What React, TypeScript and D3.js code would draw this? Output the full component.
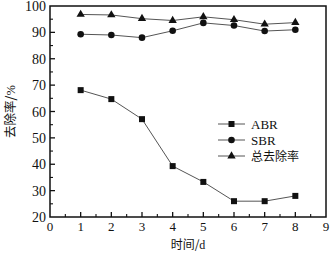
import React from "react";
import * as d3 from "d3";

const days = [1, 2, 3, 4, 5, 6, 7, 8];
const abr = [68.1, 64.7, 57.1, 39.3, 33.3, 26.0, 26.0, 28.0];
const sbr = [89.3, 89.0, 88.0, 90.6, 93.6, 92.6, 90.5, 91.0];
const total = [96.8, 96.6, 95.2, 94.5, 95.9, 94.8, 93.1, 93.7];
const xTicks = [0, 1, 2, 3, 4, 5, 6, 7, 8, 9];
const yTicks = [20, 30, 40, 50, 60, 70, 80, 90, 100];
const seriesNames = ["ABR", "SBR", "总去除率"];

const W = 333, H = 253;
const L = 50, R = 326, T = 6, B = 217;

export default function App() {
  const x = d3.scaleLinear().domain([0, 9]).range([L, R]);
  const y = d3.scaleLinear().domain([20, 100]).range([B, T]);
  const line = d3.line<number>().x((_, i) => x(days[i])).y((d) => y(d));
  const font = "'Liberation Serif', 'Times New Roman', serif";
  const cjk = "'Noto Sans CJK SC', sans-serif";
  const xMinor = d3.range(0.5, 9, 1);
  const yMinor = d3.range(25, 100, 10);
  const tri = d3.symbol().type(d3.symbolTriangle).size(30)();
  const marker = (k: number, cx: number, cy: number, key: string) => {
    if (k === 0) return <rect key={key} x={cx - 3} y={cy - 3} width={6} height={6} fill="#111" />;
    if (k === 1) return <circle key={key} cx={cx} cy={cy} r={3.3} fill="#111" />;
    return <path key={key} d={tri!} transform={`translate(${cx},${cy})`} fill="#111" />;
  };
  const series = [abr, sbr, total];
  return (
    <svg width={W} height={H} style={{ display: "block", position: "absolute", left: 0, top: 0 }}>
      <rect width={W} height={H} fill="#fff" />
      {xTicks.slice(1, -1).map((t) => (
        <line key={"xt" + t} x1={x(t)} x2={x(t)} y1={B} y2={B - 5} stroke="#111" strokeWidth={1.3} />
      ))}
      {xMinor.map((t) => (
        <line key={"xm" + t} x1={x(t)} x2={x(t)} y1={B} y2={B - 3} stroke="#111" strokeWidth={1.1} />
      ))}
      {yTicks.slice(1, -1).map((t) => (
        <line key={"yt" + t} x1={L} x2={L + 5} y1={y(t)} y2={y(t)} stroke="#111" strokeWidth={1.3} />
      ))}
      {yMinor.map((t) => (
        <line key={"ym" + t} x1={L} x2={L + 3} y1={y(t)} y2={y(t)} stroke="#111" strokeWidth={1.1} />
      ))}
      <rect x={L} y={T} width={R - L} height={B - T} fill="none" stroke="#111" strokeWidth={1.5} />
      {xTicks.map((t) => (
        <text key={"xl" + t} x={x(t)} y={B + 14} textAnchor="middle" fontFamily={font} fontSize={13} fill="#111">
          {t}
        </text>
      ))}
      {yTicks.map((t) => (
        <text key={"yl" + t} x={L - 4} y={y(t) + 5} textAnchor="end" fontFamily={font} fontSize={14} fill="#111">
          {t}
        </text>
      ))}
      <text x={(L + R) / 2} y={249} textAnchor="middle" fontSize={12} fill="#111" fontFamily={cjk}>
        时间/<tspan fontFamily={font}>d</tspan>
      </text>
      <text transform={`translate(15,${(T + B) / 2}) rotate(-90)`} textAnchor="middle" fontSize={12.5} fill="#111" fontFamily={cjk}>
        去除率/<tspan fontFamily={font}>%</tspan>
      </text>
      {series.map((s, k) => (
        <g key={"s" + k}>
          <path d={line(s)!} fill="none" stroke="#555" strokeWidth={1} />
          {s.map((v, i) => marker(k, x(days[i]), y(v), `m${k}-${i}`))}
        </g>
      ))}
      {seriesNames.map((n, k) => {
        const ly = 124 + k * 16;
        return (
          <g key={"lg" + k}>
            <line x1={218} x2={245} y1={ly} y2={ly} stroke="#555" strokeWidth={1} />
            {marker(k, 231.5, ly, "lm" + k)}
            <text x={251} y={ly + 4.5} fontSize={k === 2 ? 12 : 13} fill="#111" fontFamily={k === 2 ? cjk : font}>
              {n}
            </text>
          </g>
        );
      })}
    </svg>
  );
}
